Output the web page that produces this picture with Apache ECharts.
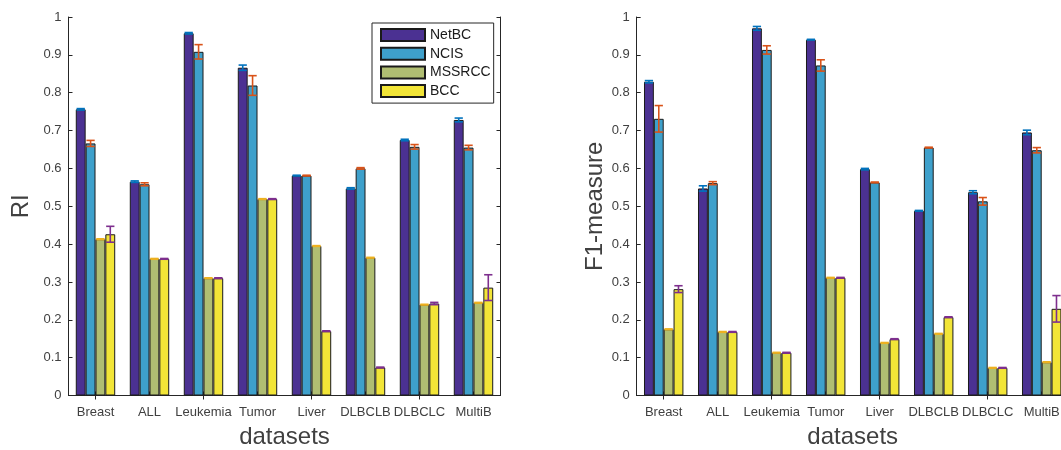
<!DOCTYPE html>
<html>
<head>
<meta charset="utf-8">
<script src="https://cdn.jsdelivr.net/npm/echarts@6/dist/echarts.min.js"></script>
<style>
html,body{margin:0;padding:0;background:#fff;overflow:hidden;}
#chart{width:1061px;height:450px;}
</style>
</head>
<body>
<div id="chart"></div>
<script>
const categories = ['Breast','ALL','Leukemia','Tumor','Liver','DLBCLB','DLBCLC','MultiB'];
const methods = ['NetBC','NCIS','MSSRCC','BCC'];
const yTicks = ['0','0.1','0.2','0.3','0.4','0.5','0.6','0.7','0.8','0.9','1'];

// RI means
const riNetBC   = [0.756,0.565,0.957,0.866,0.581,0.547,0.675,0.728];
const riNCIS    = [0.666,0.558,0.908,0.819,0.581,0.600,0.657,0.655];
const riMSSRCC  = [0.413,0.361,0.310,0.519,0.395,0.364,0.240,0.245];
const riBCC     = [0.426,0.361,0.310,0.519,0.170,0.074,0.243,0.285];
// RI error half-widths
const riNetBCErr  = [0.002,0.002,0.002,0.007,0.001,0.002,0.002,0.005];
const riNCISErr   = [0.008,0.004,0.019,0.026,0.001,0.002,0.006,0.006];
const riMSSRCCErr = [0.001,0.001,0.001,0.001,0.001,0.001,0.001,0.001];
const riBCCErr    = [0.021,0.001,0.001,0.001,0.001,0.001,0.003,0.034];

// F1 means
const f1NetBC   = [0.829,0.547,0.970,0.940,0.598,0.488,0.537,0.695];
const f1NCIS    = [0.731,0.561,0.913,0.872,0.563,0.655,0.513,0.648];
const f1MSSRCC  = [0.175,0.168,0.113,0.311,0.139,0.163,0.073,0.088];
const f1BCC     = [0.281,0.168,0.113,0.311,0.149,0.207,0.073,0.229];
// F1 error half-widths
const f1NetBCErr  = [0.003,0.007,0.005,0.001,0.002,0.001,0.004,0.006];
const f1NCISErr   = [0.035,0.004,0.011,0.015,0.001,0.001,0.010,0.007];
const f1MSSRCCErr = [0.001,0.001,0.001,0.001,0.001,0.001,0.001,0.001];
const f1BCCErr    = [0.009,0.001,0.001,0.001,0.001,0.001,0.001,0.035];

const barColors = ['#4b3192','#3ea0cb','#b0be72','#f2e537'];
const errColors = ['#0072bd','#d95319','#edb120','#7e2f8e'];
const GAP = 0.27;
const FONT = 'Liberation Sans, Arial, sans-serif';
const TXT = '#404040';

const chart = echarts.init(document.getElementById('chart'), null, {renderer:'canvas'});

function errRenderer(si){
  return function(params, api){
    const idx = api.value(0), v = api.value(1), e = api.value(2);
    const c = api.coord([idx, v]);
    const band = api.size([1,0])[0];
    const group = band*(1-GAP);
    const bw = group/4;
    const x = c[0] - group/2 + bw*(si+0.5);
    const yT = api.coord([idx, v+e])[1];
    const yB = api.coord([idx, v-e])[1];
    const hw = bw*0.42;
    const st = {stroke: errColors[si], lineWidth: 1.6};
    return {type:'group', children:[
      {type:'line', shape:{x1:x,y1:yT,x2:x,y2:yB}, style:st},
      {type:'line', shape:{x1:x-hw,y1:yT,x2:x+hw,y2:yT}, style:st},
      {type:'line', shape:{x1:x-hw,y1:yB,x2:x+hw,y2:yB}, style:st}
    ]};
  };
}

const panels = [
  {name:'RI', means:[riNetBC,riNCIS,riMSSRCC,riBCC], errs:[riNetBCErr,riNCISErr,riMSSRCCErr,riBCCErr]},
  {name:'F1-measure', means:[f1NetBC,f1NCIS,f1MSSRCC,f1BCC], errs:[f1NetBCErr,f1NCISErr,f1MSSRCCErr,f1BCCErr]}
];
const gridLefts = [68.5, 636.7];

const grid = [], xAxis = [], yAxis = [], series = [];
panels.forEach((p, gi) => {
  grid.push({left: gridLefts[gi], top: 17, width: 432, height: 378.5, containLabel:false, outerBoundsMode:'none'});
  const axLine = {show:true, lineStyle:{color:'#262626', width:1}};
  xAxis.push({
    type:'category', gridIndex:gi, data:categories, position:'bottom',
    name:'datasets', nameLocation:'middle', nameGap:30,
    nameTextStyle:{fontFamily:FONT, fontSize:24, color:TXT},
    axisLine:axLine,
    axisTick:{show:true, inside:true, alignWithLabel:true, length:4, lineStyle:{color:'#262626'}},
    axisLabel:{interval:0, fontFamily:FONT, fontSize:13, color:TXT, margin:10},
    splitLine:{show:false}
  });
  xAxis.push({
    type:'category', gridIndex:gi, data:categories, position:'top',
    axisLine:axLine,
    axisTick:{show:true, inside:true, alignWithLabel:true, length:4, lineStyle:{color:'#262626'}},
    axisLabel:{show:false}, splitLine:{show:false}
  });
  yAxis.push({
    type:'value', gridIndex:gi, min:0, max:1, interval:0.1, position:'left',
    name:p.name, nameLocation:'middle', nameGap: gi===0 ? 35 : 22, nameRotate:90,
    nameTextStyle:{fontFamily:FONT, fontSize:24, color:TXT},
    axisLine:axLine,
    axisTick:{show:true, inside:true, length:4, lineStyle:{color:'#262626'}},
    axisLabel:{fontFamily:FONT, fontSize:13, color:TXT, margin:7,
      formatter:(v)=> yTicks[Math.round(v*10)]},
    splitLine:{show:false}
  });
  yAxis.push({
    type:'value', gridIndex:gi, min:0, max:1, interval:0.1, position:'right',
    axisLine:axLine,
    axisTick:{show:true, inside:true, length:4, lineStyle:{color:'#262626'}},
    axisLabel:{show:false}, splitLine:{show:false}
  });
  methods.forEach((m, si) => {
    series.push({
      name:m, type:'bar', xAxisIndex:gi*2, yAxisIndex:gi*2,
      data:p.means[si], barGap:'0%', barCategoryGap:(GAP*100)+'%',
      itemStyle:{color:barColors[si], borderColor:'#1a1a1a', borderWidth:1},
      emphasis:{disabled:true}, animation:false, z:2
    });
  });
  methods.forEach((m, si) => {
    series.push({
      name:'err_'+m+'_'+gi, type:'custom', xAxisIndex:gi*2, yAxisIndex:gi*2,
      data:categories.map((c, i) => [i, p.means[si][i], p.errs[si][i]]),
      encode:{x:0, y:1}, renderItem:errRenderer(si), z:5, animation:false, silent:true
    });
  });
});

chart.setOption({
  animation:false,
  backgroundColor:'#fff',
  grid, xAxis, yAxis, series,
  legend:{
    data:methods, orient:'vertical', left:372, top:23,
    padding:[5,3,5,8], itemWidth:44, itemHeight:12, itemGap:4.7,
    borderColor:'#262626', borderWidth:1, backgroundColor:'#fff',
    textStyle:{fontFamily:FONT, fontSize:14, color:'#1a1a1a', padding:[0,0,0,0]},
    selectedMode:false, icon:'rect'
  }
});
</script>
</body>
</html>
